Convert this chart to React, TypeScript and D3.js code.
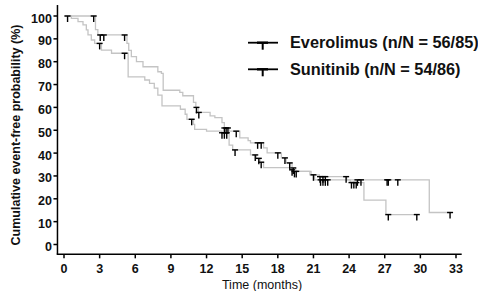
import * as d3 from 'd3';
import React from 'react';

// Kaplan-Meier steps: [months, % event-free]
const everolimusSteps: [number, number][] = [
  [0, 100], [2.65, 94], [2.85, 91.7], [5.3, 88], [5.45, 85], [5.67, 82.2], [6.1, 80],
  [6.65, 77.8], [7.9, 75.6], [8.2, 74.9], [8.35, 67.5], [9.75, 66.6], [10.0, 65.1],
  [10.9, 62.2], [11.1, 60], [11.3, 57.8], [12.3, 56.3], [12.7, 55.5], [13.3, 53.3],
  [13.5, 51], [13.9, 49.6], [14.8, 46.7], [15.5, 45.5], [15.7, 44.5], [16.8, 42.3],
  [17.1, 40.1], [18.3, 37.9], [18.7, 35.7], [19.2, 33.5], [19.5, 32], [20.7, 30.5],
  [21.5, 29.7], [23.8, 28.3], [30.75, 14.0],
];
const everolimusEnd = 32.6;
const everolimusCensored = [
  0.3, 2.5, 3.05, 3.35, 5.1, 11.15, 11.35, 13.5, 13.65, 13.8, 14.5, 16.3, 16.6,
  18.0, 18.6, 19.0, 19.3, 19.55, 21.0, 21.55, 21.8, 22.0, 23.75, 24.7, 25.0,
  27.2, 27.3, 28.1, 32.5,
];

const sunitinibSteps: [number, number][] = [
  [0, 100], [0.62, 99], [1.18, 97.5], [1.6, 96.1], [1.88, 93.9], [2.02, 91.7],
  [2.3, 89.5], [2.58, 88], [3.15, 85.1], [4.0, 83.7], [5.4, 73.4], [6.8, 72],
  [7.2, 70.5], [7.6, 68.4], [7.9, 65.4], [8.25, 60.7], [9.8, 59.2], [10.2, 57],
  [10.35, 54.8], [10.9, 52.6], [11.0, 50.4], [12.0, 49.6], [13.3, 48.9],
  [13.9, 43.5], [14.2, 41.4], [15.7, 39.2], [16.2, 37.7], [16.5, 36], [16.8, 33.6],
  [19.0, 32.7], [19.3, 32], [20.8, 30.5], [21.1, 28.3], [24.1, 27.1], [25.25, 19.4],
  [27.1, 13.1],
];
const sunitinibEnd = 29.75;
const sunitinibCensored = [
  3.0, 5.1, 10.75, 13.3, 13.5, 13.7, 14.4, 16.1, 16.4, 16.6, 19.2, 19.4, 21.6,
  21.8, 22.0, 22.2, 24.2, 24.4, 24.6, 27.3, 29.7,
];

const xTicks = [0, 3, 6, 9, 12, 15, 18, 21, 24, 27, 30, 33];
const yTicks = [0, 10, 20, 30, 40, 50, 60, 70, 80, 90, 100];
const legendLabels = ['Everolimus (n/N = 56/85)', 'Sunitinib (n/N = 54/86)'];

const W = 478;
const H = 291;
const font = 'Arial, "Liberation Sans", sans-serif';

const x = d3.scaleLinear().domain([0, 33]).range([64, 456]);
const y = d3.scaleLinear().domain([0, 100]).range([244.5, 16]);

const stepLine = d3.line<[number, number]>()
  .x(d => x(d[0]))
  .y(d => y(d[1]))
  .curve(d3.curveStepAfter);

// value of a KM curve at time t
const valueAt = (steps: [number, number][], t: number) => {
  let v = steps[0][1];
  for (const [st, sv] of steps) if (st <= t) v = sv;
  return v;
};

function Curve({ steps, end, censored }: { steps: [number, number][], end: number, censored: number[] }) {
  const pts: [number, number][] = [...steps, [end, steps[steps.length - 1][1]]];
  return (
    <g>
      <path d={stepLine(pts) || ''} fill="none" stroke="#c4c4c4" strokeWidth={1.3} />
      {censored.map((t, i) => {
        const cx = x(t);
        const cy = y(valueAt(steps, t));
        return (
          <g key={i} stroke="#000" strokeWidth={1.4}>
            <line x1={cx - 3} x2={cx + 3} y1={cy} y2={cy} />
            <line x1={cx} x2={cx} y1={cy} y2={cy + 6} />
          </g>
        );
      })}
    </g>
  );
}

export default function App() {
  const axisLeftX = x(-0.55);
  const axisBottomY = y(-4.3);
  return (
    <svg width={W} height={H} style={{ position: 'absolute', left: 0, top: 0 }}>
      <rect width={W} height={H} fill="#fff" />

      <Curve steps={sunitinibSteps} end={sunitinibEnd} censored={sunitinibCensored} />
      <Curve steps={everolimusSteps} end={everolimusEnd} censored={everolimusCensored} />

      {/* y axis */}
      <line x1={axisLeftX} x2={axisLeftX} y1={y(104.8)} y2={axisBottomY} stroke="#000" strokeWidth={1.5} />
      {yTicks.map(t => (
        <g key={t}>
          <line x1={axisLeftX - 4} x2={axisLeftX} y1={y(t)} y2={y(t)} stroke="#000" strokeWidth={1.5} />
          <text x={axisLeftX - 5.5} y={y(t) + 6.5} textAnchor="end" fontFamily={font}
            fontWeight="bold" fontSize={12.5} fill="#111">{t}</text>
        </g>
      ))}

      {/* x axis */}
      <line x1={axisLeftX - 0.75} x2={x(33.48)} y1={axisBottomY} y2={axisBottomY} stroke="#000" strokeWidth={1.5} />
      {xTicks.map(t => (
        <g key={t}>
          <line x1={x(t)} x2={x(t)} y1={axisBottomY} y2={axisBottomY + 4} stroke="#000" strokeWidth={1.5} />
          <text x={x(t)} y={273} textAnchor="middle" fontFamily={font}
            fontWeight="bold" fontSize={12.5} fill="#111">{t}</text>
        </g>
      ))}

      <text x={262} y={289} textAnchor="middle" fontFamily={font} fontSize={12.5} fill="#111">
        Time (months)
      </text>
      <text transform={`translate(20,135) rotate(-90)`} textAnchor="middle" fontFamily={font}
        fontWeight="bold" fontSize={12.5} fill="#111">
        Cumulative event-free probability (%)
      </text>

      {/* legend */}
      {legendLabels.map((label, i) => {
        const ly = 42.7 + i * 26.6;
        return (
          <g key={label}>
            <line x1={248} x2={278} y1={ly} y2={ly} stroke="#000" strokeWidth={1.8} />
            <line x1={257} x2={268} y1={ly} y2={ly} stroke="#000" strokeWidth={2.4} />
            <line x1={262.7} x2={262.7} y1={ly} y2={ly + 7} stroke="#000" strokeWidth={2} />
            <text x={290} y={ly + 4.8 + i * 0.8} fontFamily={font} fontWeight="bold" fontSize={16.3} fill="#111">
              {label}
            </text>
          </g>
        );
      })}
    </svg>
  );
}
